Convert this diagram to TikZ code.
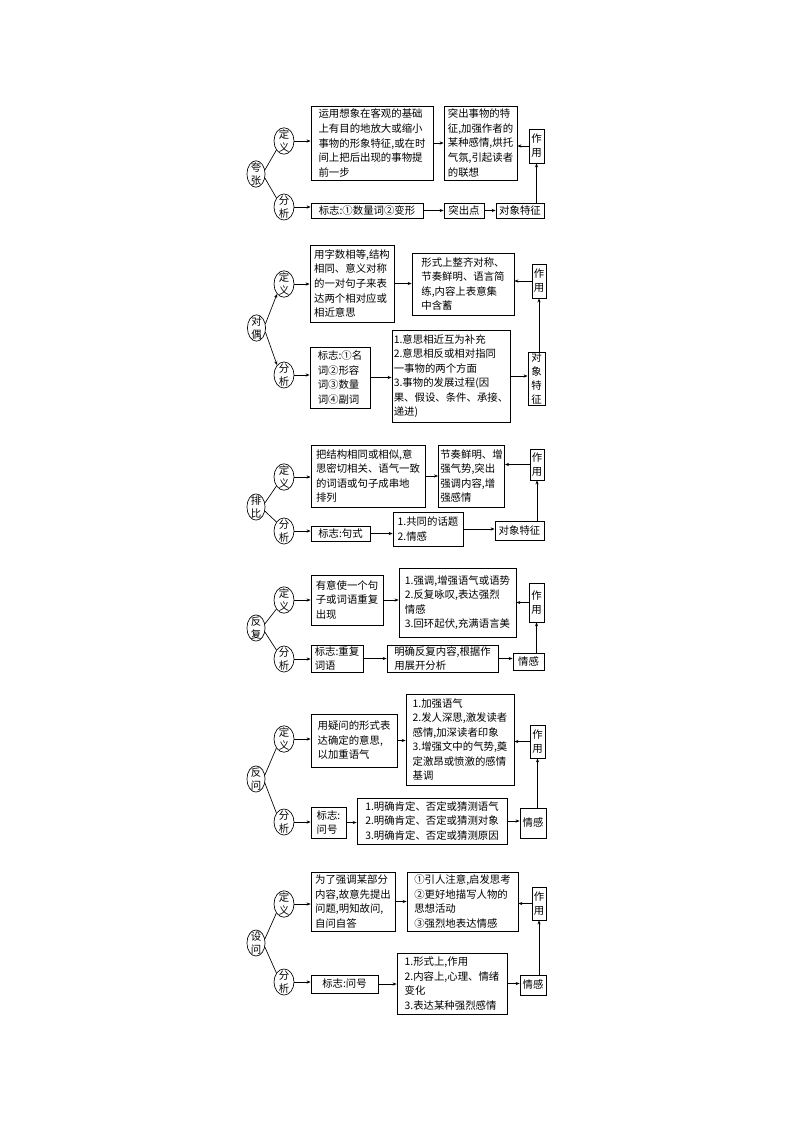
\documentclass[tikz,border=0pt]{standalone}
\usepackage{fontspec}
\setmainfont{Noto Sans CJK SC}
\usetikzlibrary{arrows.meta,shapes.geometric}
\tikzset{
    box/.style={draw, line width=0.6pt, align=left, inner xsep=1.4pt, inner ysep=1pt}, % 方框
    vbox/.style={draw, line width=0.6pt, align=center, inner xsep=1pt, inner ysep=0.5pt, font=\fontsize{7.8}{10.5}\selectfont}, % 竖排方框
    oval/.style={draw, ellipse, line width=0.5pt, align=center, inner xsep=1.4pt, inner ysep=-1.6pt, font=\fontsize{7.8}{10}\selectfont}, % 椭圆
    big oval/.style={oval, inner xsep=0.9pt}, % 左侧主椭圆
    wh/.style 2 args={minimum width=#1*0.75pt, minimum height=#2*0.75pt}, % 按像素给尺寸
    arr/.style={-{Stealth[length=3pt, width=2.4pt]}, line width=0.5pt}
}

\begin{document}
\begin{tikzpicture}[x=0.75pt, y=-0.75pt, font=\fontsize{7.8}{10.9}\selectfont]
\useasboundingbox (0,0) rectangle (794,1123);

% 夸张
\node[big oval] (kz) at (256,174) {夸\\张};
\node[oval] (dy1) at (284,141) {定\\义};
\node[oval] (fx1) at (284,207) {分\\析};
\node[box, wh={122}{74}] (db1) at (372,143) {运用想象在客观的基础\\上有目的地放大或缩小\\事物的形象特征,或在时\\间上把后出现的事物提\\前一步};
\node[box, wh={73}{74}] (xg1) at (480.5,143) {突出事物的特\\征,加强作者的\\某种感情,烘托\\气氛,引起读者\\的联想};
\node[vbox, wh={15}{34}] (zy1) at (536.5,146) {作\\用};
\node[box, wh={112}{15}] (bz1) at (367,210.5) {标志:①数量词②变形};
\node[box, wh={40}{15}] (tc1) at (464,210.5) {突出点};
\node[box, wh={48}{15}] (dx1) at (520,210.5) {对象特征};
\draw[line width=0.5pt] (kz.25) -- (dy1.230) (kz.-25) -- (fx1.130);
\draw[arr] (dy1) -- (dy1 -| db1.west);
\draw[arr] (db1) -- (xg1);
\draw[arr] (zy1) -- (zy1 -| xg1.east);
\draw[arr] (fx1) -- (fx1 -| bz1.west);
\draw[arr] (bz1) -- (tc1);
\draw[arr] (tc1) -- (dx1);
\draw[arr] (zy1 |- dx1.north) -- (zy1.south);

% 对偶
\node[big oval] (do) at (256.5,328) {对\\偶};
\node[oval] (dy2) at (284,284) {定\\义};
\node[oval] (fx2) at (284,375) {分\\析};
\node[box, wh={84}{77}] (db2) at (352,283.5) {用字数相等,结构\\相同、意义对称\\的一对句子来表\\达两个相对应或\\相近意思};
\node[box, wh={102}{62}] (xg2) at (463,284) {形式上整齐对称、\\节奏鲜明、语言简\\练,内容上表意集\\中含蓄};
\node[vbox, wh={14}{34}] (zy2) at (539,281) {作\\用};
\node[box, wh={60}{61}] (bz2) at (340,377.5) {标志:①名\\词②形容\\词③数量\\词④副词};
\node[box, wh={116}{92}] (lb2) at (451,376) {1.意思相近互为补充\\2.意思相反或相对指同\\一事物的两个方面\\3.事物的发展过程(因\\果、假设、条件、承接、\\递进)};
\node[vbox, wh={17}{53}] (dx2) at (536.5,378.5) {对\\象\\特\\征};
\draw[arr] (do.25) -- (dy2.235);
\draw[arr] (do.-25) -- (fx2.125);
\draw[arr] (dy2) -- (dy2 -| db2.west);
\draw[arr] (db2) -- (db2 -| xg2.west);
\draw[arr] (zy2) -- (zy2 -| xg2.east);
\draw[arr] (fx2) -- (fx2 -| bz2.west);
\draw[arr] (bz2) -- (bz2 -| lb2.west);
\draw[arr] (lb2) -- (lb2 -| dx2.west);
\draw[arr] (zy2 |- dx2.north) -- (zy2.south);

% 排比
\node[big oval] (pb) at (256,507) {排\\比};
\node[oval] (dy3) at (284,477) {定\\义};
\node[oval] (fx3) at (284,531) {分\\析};
\node[box, wh={114}{62}] (db3) at (368,476) {把结构相同或相似,意\\思密切相关、语气一致\\的词语或句子成串地\\排列};
\node[box, wh={65}{62}] (xg3) at (471.5,476) {节奏鲜明、增\\强气势,突出\\强调内容,增\\强感情};
\node[vbox, wh={14}{31}] (zy3) at (537,464.5) {作\\用};
\node[box, wh={59}{15}] (bz3) at (340.5,533.5) {标志:句式};
\node[box, wh={70}{34}] (lb3) at (428,529) {1.共同的话题\\2.情感};
\node[box, wh={49}{19}] (dx3) at (519.5,530.5) {对象特征};
\draw[line width=0.5pt] (pb.25) -- (dy3.230) (pb.-25) -- (fx3.130);
\draw[arr] (dy3) -- (dy3 -| db3.west);
\draw[arr] (db3) -- (xg3);
\draw[arr] (zy3) -- (zy3 -| xg3.east);
\draw[arr] (fx3) -- (fx3 -| bz3.west);
\draw[arr] (bz3) -- (bz3 -| lb3.west);
\draw[arr] (lb3) -- (lb3 -| dx3.west);
\draw[arr] (zy3 |- dx3.north) -- (zy3.south);

% 反复
\node[big oval] (ff) at (256,628) {反\\复};
\node[oval] (dy4) at (284,600) {定\\义};
\node[oval] (fx4) at (284,659) {分\\析};
\node[box, wh={72}{50}] (db4) at (347,600) {有意使一个句\\子或词语重复\\出现};
\node[box, wh={117}{69}] (xg4) at (457.5,602.5) {1.强调,增强语气或语势\\2.反复咏叹,表达强烈\\情感\\3.回环起伏,充满语言美};
\node[vbox, wh={15}{39}] (zy4) at (536.5,602.5) {作\\用};
\node[box, wh={52}{27}] (bz4) at (337,658.5) {标志:重复\\词语};
\node[box, wh={111}{27}] (mq4) at (442.5,658.5) {明确反复内容,根据作\\用展开分析};
\node[box, wh={31}{17}] (qg4) at (528.5,661.5) {情感};
\draw[line width=0.5pt] (ff.25) -- (dy4.230) (ff.-25) -- (fx4.130);
\draw[arr] (dy4) -- (dy4 -| db4.west);
\draw[arr] (db4) -- (db4 -| xg4.west);
\draw[arr] (zy4) -- (zy4 -| xg4.east);
\draw[arr] (fx4) -- (fx4 -| bz4.west);
\draw[arr] (bz4) -- (mq4);
\draw[arr] (mq4) -- (mq4 -| qg4.west);
\draw[arr] (zy4 |- qg4.north) -- (zy4.south);

% 反问
\node[big oval] (fw) at (256,779) {反\\问};
\node[oval] (dy5) at (284,739) {定\\义};
\node[oval] (fx5) at (284,822) {分\\析};
\node[box, wh={86}{53}] (db5) at (354,740.5) {用疑问的形式表\\达确定的意思,\\以加重语气};
\node[box, wh={108}{91}] (xg5) at (460,739.5) {1.加强语气\\2.发人深思,激发读者\\感情,加深读者印象\\3.增强文中的气势,奠\\定激昂或愤激的感情\\基调};
\node[vbox, wh={15}{33}] (zy5) at (537.5,741.5) {作\\用};
\node[box, wh={35}{31}] (bz5) at (328.5,822.5) {标志:\\问号};
\node[box, wh={150}{46}] (lb5) at (432,821) {1.明确肯定、否定或猜测语气\\2.明确肯定、否定或猜测对象\\3.明确肯定、否定或猜测原因};
\node[box, wh={26}{30}] (qg5) at (533,823) {情感};
\draw[line width=0.5pt] (fw.25) -- (dy5.230) (fw.-25) -- (fx5.130);
\draw[arr] (dy5) -- (dy5 -| db5.west);
\draw[arr] (db5) -- (db5 -| xg5.west);
\draw[arr] (zy5) -- (zy5 -| xg5.east);
\draw[arr] (fx5) -- (fx5 -| bz5.west);
\draw[arr] (bz5) -- (bz5 -| lb5.west);
\draw[arr] (lb5) -- (lb5 -| qg5.west);
\draw[arr] (zy5 |- qg5.north) -- (zy5.south);

% 设问
\node[big oval] (sw) at (256,943) {设\\问};
\node[oval] (dy6) at (284,904) {定\\义};
\node[oval] (fx6) at (284,982) {分\\析};
\node[box, wh={84}{59}] (db6) at (353,901.5) {为了强调某部分\\内容,故意先提出\\问题,明知故问,\\自问自答};
\node[box, wh={111}{59}] (xg6) at (462.5,901.5) {①引人注意,启发思考\\②更好地描写人物的\\思想活动\\③强烈地表达情感};
\node[vbox, wh={14}{33}] (zy6) at (539,903.5) {作\\用};
\node[box, wh={67}{18}] (bz6) at (344.5,984) {标志:问号};
\node[box, wh={110}{61}] (lb6) at (452,983.5) {1.形式上,作用\\2.内容上,心理、情绪\\变化\\3.表达某种强烈感情};
\node[box, wh={26}{20}] (qg6) at (533,985) {情感};
\draw[line width=0.5pt] (sw.25) -- (dy6.230) (sw.-25) -- (fx6.130);
\draw[arr] (dy6) -- (dy6 -| db6.west);
\draw[arr] (db6) -- (xg6);
\draw[arr] (zy6) -- (zy6 -| xg6.east);
\draw[arr] (fx6) -- (fx6 -| bz6.west);
\draw[arr] (bz6) -- (bz6 -| lb6.west);
\draw[arr] (lb6) -- (lb6 -| qg6.west);
\draw[arr] (zy6 |- qg6.north) -- (zy6.south);
\end{tikzpicture}
\end{document}
